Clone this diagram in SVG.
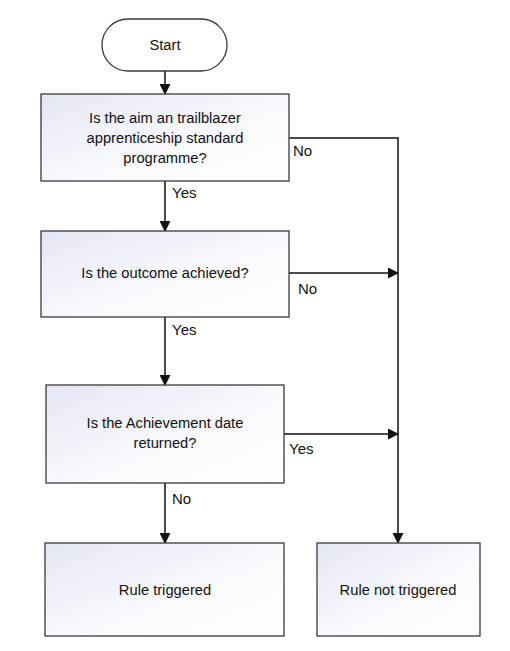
<svg xmlns="http://www.w3.org/2000/svg" width="510" height="651" viewBox="0 0 510 651">
<style>
.box{stroke:#3a3a3a;stroke-width:1.3;fill:url(#g)}
.term{stroke:#3a3a3a;stroke-width:1.3;fill:#fff}
.t{font-family:"Liberation Sans",Arial,sans-serif;font-size:14.7px;fill:#111;text-anchor:middle}
.l{font-family:"Liberation Sans",Arial,sans-serif;font-size:15px;fill:#111}
.c{stroke:#111;stroke-width:1.5;fill:none}
</style>
<defs>
<linearGradient id="g" x1="0" y1="0" x2="1" y2="1">
<stop offset="0" stop-color="#e4e6f4"/>
<stop offset="0.6" stop-color="#fbfbfd"/>
<stop offset="1" stop-color="#ffffff"/>
</linearGradient>
<marker id="a" markerWidth="11" markerHeight="11" refX="10" refY="5.5" orient="auto" markerUnits="userSpaceOnUse">
<path d="M0,0 L11,5.5 L0,11 Z" fill="#111"/>
</marker>
</defs>
<rect width="510" height="651" fill="#fff"/>
<g id="connectors">
<path class="c" d="M165,71 V94" marker-end="url(#a)"/>
<path class="c" d="M165,181 V231" marker-end="url(#a)"/>
<path class="c" d="M165,317 V385" marker-end="url(#a)"/>
<path class="c" d="M165,483 V543" marker-end="url(#a)"/>
<path class="c" d="M289,138 H398 V543" marker-end="url(#a)"/>
<path class="c" d="M289,273 H398" marker-end="url(#a)"/>
<path class="c" d="M284,434 H398" marker-end="url(#a)"/>
<text class="l" x="172" y="198">Yes</text>
<text class="l" x="293" y="156">No</text>
<text class="l" x="172" y="335">Yes</text>
<text class="l" x="298" y="294">No</text>
<text class="l" x="289" y="454">Yes</text>
<text class="l" x="172" y="504">No</text>
</g>
<g id="start">
<rect class="term" x="102" y="19" width="125" height="52" rx="26" ry="26"/>
<text class="t" x="165" y="50">Start</text>
</g>
<g id="q1">
<rect class="box" x="41" y="94" width="248" height="87"/>
<text class="t" x="165" y="123">Is the aim an trailblazer</text>
<text class="t" x="165" y="143">apprenticeship standard</text>
<text class="t" x="165" y="163">programme?</text>
</g>
<g id="q2">
<rect class="box" x="41" y="231" width="248" height="86"/>
<text class="t" x="165" y="278">Is the outcome achieved?</text>
</g>
<g id="q3">
<rect class="box" x="46" y="385" width="238" height="98"/>
<text class="t" x="165" y="428">Is the Achievement date</text>
<text class="t" x="165" y="448">returned?</text>
</g>
<g id="triggered">
<rect class="box" x="45" y="543" width="239" height="93"/>
<text class="t" x="165" y="595">Rule triggered</text>
</g>
<g id="not_triggered">
<rect class="box" x="317" y="543" width="163" height="93"/>
<text class="t" x="398" y="595">Rule not triggered</text>
</g>
</svg>
